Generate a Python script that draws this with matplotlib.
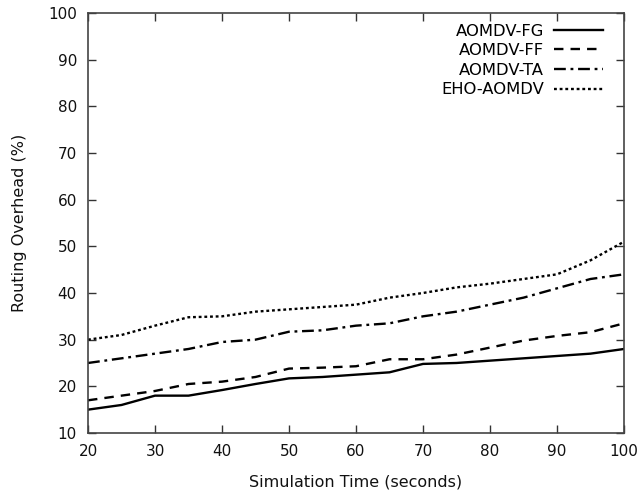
import numpy as np
from matplotlib import pyplot as plt

# simulation time (s)
time = [20, 25, 30, 35, 40, 45, 50, 55, 60, 65, 70, 75, 80, 85, 90, 95, 100]

# routing overhead (%)
fg = [15.0, 16.0, 18.0, 18.0, 19.2, 20.5, 21.7, 22.0, 22.5, 23.0, 24.8, 25.0, 25.5, 26.0, 26.5, 27.0, 28.0]
ff = [17.0, 18.0, 19.0, 20.5, 21.0, 22.0, 23.8, 24.0, 24.3, 25.8, 25.8, 26.8, 28.3, 29.8, 30.8, 31.6, 33.5]
ta = [25.0, 26.0, 27.0, 28.0, 29.5, 30.0, 31.7, 32.0, 33.0, 33.5, 35.0, 36.0, 37.5, 39.0, 41.0, 43.0, 44.0]
eho = [30.0, 31.0, 33.0, 34.8, 35.0, 36.0, 36.5, 37.0, 37.5, 39.0, 40.0, 41.2, 42.0, 43.0, 44.0, 47.0, 51.0]

plt.rcParams['font.family'] = 'DejaVu Sans'
fig = plt.figure(figsize=(6.41, 4.95), dpi=100)
ax = fig.add_axes([0.1373, 0.1253, 0.8362, 0.8484])

lw = 1.7
ax.plot(time, fg, color='black', lw=lw, ls='-', label='AOMDV-FG')
ax.plot(time, ff, color='black', lw=lw, ls=(0, (4, 3)), label='AOMDV-FF')
ax.plot(time, ta, color='black', lw=lw, ls=(0, (5, 2, 1.2, 2)), label='AOMDV-TA')
ax.plot(time, eho, color='black', lw=lw, ls=(0, (1.2, 1.2)), label='EHO-AOMDV')

ax.set_xlim(20, 100)
ax.set_ylim(10, 100)
ax.set_xticks(np.arange(20, 101, 10))
ax.set_yticks(np.arange(10, 101, 10))
ax.tick_params(direction='in', length=6, width=1, top=True, right=True,
               labelsize=11, pad=8, colors='#333333', labelcolor='#111111')
for s in ax.spines.values():
    s.set_color('#444444')
    s.set_linewidth(1.2)

ax.set_xlabel('Simulation Time (seconds)', fontsize=11.5, labelpad=11, color='#111111')
ax.set_ylabel('Routing Overhead (%)', fontsize=11.5, labelpad=15, color='#111111')

ax.legend(loc='upper right', frameon=False, markerfirst=False, fontsize=11.8,
          handlelength=3.0, handletextpad=0.6, labelspacing=0.28,
          borderaxespad=0, borderpad=0, bbox_to_anchor=(0.961, 0.975))

fig.savefig('out.png', dpi=100)
